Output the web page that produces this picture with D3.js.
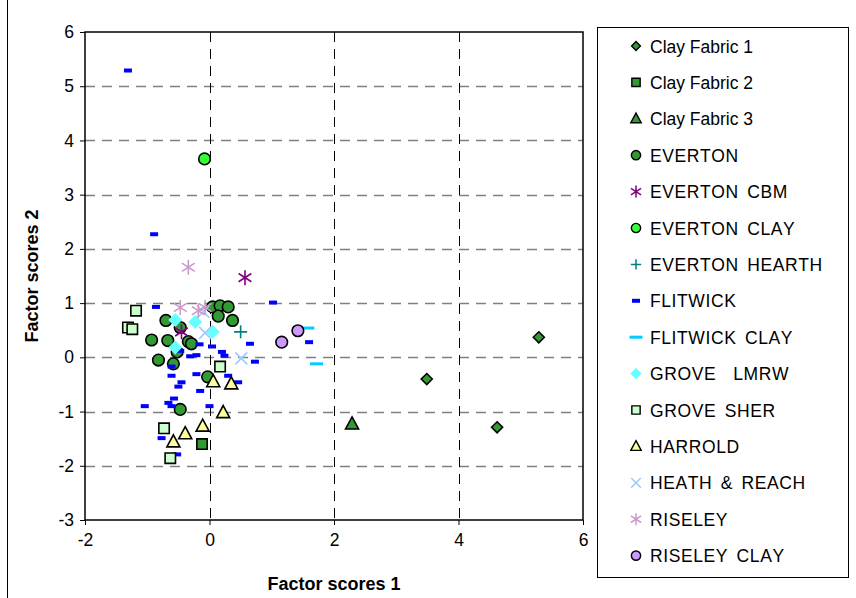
<!DOCTYPE html>
<html lang="en">
<head>
<meta charset="UTF-8" />
<title>Factor scores</title>
<script src="https://cdn.jsdelivr.net/npm/d3@7"></script>
<style>
  body { margin: 0; background: #fff; }
  text { font-family: "Liberation Sans", Arial, sans-serif; font-kerning: none; }
</style>
</head>
<body>
<script>
// data: [factor score 1, factor score 2]
var clayFabric1 = [[5.29,0.37],[3.49,-0.40],[4.62,-1.29]];
var clayFabric2 = [[-0.12,-1.60]];
var clayFabric3 = [[2.29,-1.23]];
var everton = [[0.05,0.93],[0.17,0.95],[0.30,0.93],[0.14,0.76],[0.37,0.68],[-0.70,0.68],
  [-0.47,0.55],[-0.93,0.32],[-0.67,0.31],[-0.34,0.29],[-0.29,0.25],[-0.52,0.10],
  [-0.82,-0.05],[-0.58,-0.12],[-0.03,-0.36],[-0.47,-0.96]];
var evertonCBM = [[0.57,1.47],[-0.45,0.47]];
var evertonClay = [[-0.08,3.66]];
var evertonHearth = [[0.50,0.47]];
var flitwick = [[-1.31,5.29],[-0.89,2.27],[-0.86,0.93],[1.02,1.01],[-0.16,0.24],[0.04,0.20],
  [-0.31,0.02],[-0.21,0.04],[-0.47,0.12],[0.20,0.10],[0.24,0.03],[0.65,0.25],[0.73,-0.08],
  [1.60,0.28],[-0.61,-0.17],[-0.61,-0.34],[-0.21,-0.31],[0.30,-0.34],[-0.45,-0.46],
  [-0.50,-0.54],[0.46,-0.46],[-0.15,-0.62],[-0.57,-0.76],[-0.66,-0.84],[-0.61,-0.90],
  [-1.04,-0.90],[0.00,-0.90],[-0.77,-1.49],[-0.52,-1.79]];
var flitwickClay = [[1.58,0.54],[1.72,-0.12]];
var groveLmrw = [[-0.55,0.69],[-0.23,0.65],[0.05,0.47],[-0.55,0.18]];
var groveSher = [[-1.18,0.86],[-1.31,0.55],[-1.24,0.52],[0.17,-0.17],[-0.73,-1.31],[-0.63,-1.86]];
var harrold = [[0.06,-0.45],[0.35,-0.49],[0.22,-1.02],[-0.11,-1.27],[-0.39,-1.41],[-0.58,-1.56]];
var heathReach = [[0.51,-0.02],[-0.07,0.45],[-0.10,0.84]];
var riseley = [[-0.34,1.66],[-0.47,0.92],[-0.18,0.86],[-0.07,0.92]];
var riseleyClay = [[1.42,0.49],[1.16,0.28]];

var xTicks = [-2,0,2,4,6];
var yTicks = [-3,-2,-1,0,1,2,3,4,5,6];

var series = [
  {name:"Clay Fabric 1", data:clayFabric1, shape:"diamond", fill:"#339933", stroke:"#000"},
  {name:"Clay Fabric 2", data:clayFabric2, shape:"square", fill:"#339933", stroke:"#000"},
  {name:"Clay Fabric 3", data:clayFabric3, shape:"triangle", fill:"#339933", stroke:"#000"},
  {name:"EVERTON", data:everton, shape:"circle", fill:"#339933", stroke:"#000"},
  {name:"EVERTON CBM", data:evertonCBM, shape:"star", fill:"none", stroke:"#800080"},
  {name:"EVERTON CLAY", data:evertonClay, shape:"circle", fill:"#33ff33", stroke:"#000"},
  {name:"EVERTON HEARTH", data:evertonHearth, shape:"plus", fill:"none", stroke:"#008080"},
  {name:"FLITWICK", data:flitwick, shape:"dash", fill:"#0000ff", stroke:"none"},
  {name:"FLITWICK CLAY", data:flitwickClay, shape:"longdash", fill:"#00ccff", stroke:"none"},
  {name:"GROVE  LMRW", data:groveLmrw, shape:"diamondbig", fill:"#66ffff", stroke:"none"},
  {name:"GROVE SHER", data:groveSher, shape:"square", fill:"#ccffcc", stroke:"#000"},
  {name:"HARROLD", data:harrold, shape:"triangle", fill:"#ffff99", stroke:"#000"},
  {name:"HEATH & REACH", data:heathReach, shape:"cross", fill:"none", stroke:"#99ccff"},
  {name:"RISELEY", data:riseley, shape:"star", fill:"none", stroke:"#cc99cc"},
  {name:"RISELEY CLAY", data:riseleyClay, shape:"circle", fill:"#cc99ff", stroke:"#000"}
];

function shapePath(shape, s) {
  // s = 1 for plot, smaller for legend
  var r;
  switch (shape) {
    case "diamond": r = 5.5*s; return "M0,"+(-r)+"L"+r+",0L0,"+r+"L"+(-r)+",0Z";
    case "diamondbig": r = 7*s; return "M0,"+(-r)+"L"+r+",0L0,"+r+"L"+(-r)+",0Z";
    case "square": r = 5.2*s; return "M"+(-r)+","+(-r)+"H"+r+"V"+r+"H"+(-r)+"Z";
    case "triangle": r = 6.2*s; return "M0,"+(-r*1.15)+"L"+(r*1.05)+","+(r*0.8)+"L"+(-r*1.05)+","+(r*0.8)+"Z";
    case "circle": r = 5.8*s; return d3.symbol().type(d3.symbolCircle).size(Math.PI*r*r)();
    case "star": r = 7.5*s; return "M0,"+(-r)+"V"+r+"M"+(-r*0.85)+","+(-r*0.55)+"L"+(r*0.85)+","+(r*0.55)+
                   "M"+(r*0.85)+","+(-r*0.55)+"L"+(-r*0.85)+","+(r*0.55);
    case "plus": r = 6.5*s; return "M"+(-r)+",0H"+r+"M0,"+(-r)+"V"+r;
    case "cross": r = 6*s; return "M"+(-r)+","+(-r)+"L"+r+","+r+"M"+r+","+(-r)+"L"+(-r)+","+r;
    case "dash": return "M-4,-2H4V2H-4Z";
    case "longdash": return "M-6.5,-1.5H6.5V1.5H-6.5Z";
  }
}

var w = 856, h = 598;
var svg = d3.select("body").append("svg").attr("width", w).attr("height", h);

// outer chart frame (only left edge shows)
svg.append("line").attr("x1", 7.5).attr("x2", 7.5).attr("y1", 0).attr("y2", h)
   .attr("stroke", "#000").attr("stroke-width", 1);

var xScale = d3.scaleLinear().domain([-2, 6]).range([85, 583]);
var yScale = d3.scaleLinear().domain([-3, 6]).range([520, 32]);

var plot = svg.append("g");
plot.append("rect").attr("x", 85).attr("y", 32).attr("width", 498).attr("height", 488)
    .attr("fill", "#fff");

// gridlines
plot.selectAll(".hgrid").data(yTicks.filter(function(d) { return d > -3 && d < 6; }))
  .enter().append("line").attr("class", "hgrid")
  .attr("x1", 85).attr("x2", 583)
  .attr("y1", function(d) { return Math.round(yScale(d)) + 0.5; })
  .attr("y2", function(d) { return Math.round(yScale(d)) + 0.5; })
  .attr("stroke", "#808080").attr("stroke-width", 1.5).attr("stroke-dasharray", "10,7");
plot.selectAll(".vgrid").data(xTicks.filter(function(d) { return d > -2 && d < 6; }))
  .enter().append("line").attr("class", "vgrid")
  .attr("y1", 32).attr("y2", 520)
  .attr("x1", function(d) { return Math.round(xScale(d)) + 0.5; })
  .attr("x2", function(d) { return Math.round(xScale(d)) + 0.5; })
  .attr("stroke", "#000").attr("stroke-width", 1).attr("stroke-dasharray", "10,7");

// axes
var fmt = function(d) { return String(d); };
var xAxis = d3.axisBottom(xScale).tickValues(xTicks).tickSize(5).tickPadding(9).tickFormat(fmt);
var yAxis = d3.axisLeft(yScale).tickValues(yTicks).tickSize(5).tickPadding(6).tickFormat(fmt);
var gx = svg.append("g").attr("transform", "translate(0,520)").call(xAxis);
var gy = svg.append("g").attr("transform", "translate(85,0)").call(yAxis);
[gx, gy].forEach(function(g) {
  g.select(".domain").remove();
  g.selectAll("text").attr("font-size", 17.5).attr("fill", "#000")
   .style("font-family", "'Liberation Sans', Arial, sans-serif");
  g.selectAll("line").attr("stroke", "#000");
});

plot.append("rect").attr("x", 85).attr("y", 32).attr("width", 498).attr("height", 488)
    .attr("fill", "none").attr("stroke", "#000").attr("stroke-width", 1.5);

// markers
series.forEach(function(s) {
  svg.append("g").selectAll("path").data(s.data).enter().append("path")
    .attr("transform", function(d) { return "translate(" + xScale(d[0]) + "," + yScale(d[1]) + ")"; })
    .attr("d", shapePath(s.shape, 1))
    .attr("fill", s.fill)
    .attr("stroke", s.stroke)
    .attr("stroke-width", 1.6);
});

// axis titles
svg.append("text").text("Factor scores 1")
   .attr("x", 334).attr("y", 590).attr("text-anchor", "middle")
   .attr("font-size", 18).attr("font-weight", "bold");
svg.append("text").text("Factor scores 2")
   .attr("text-anchor", "middle").attr("font-size", 18).attr("font-weight", "bold")
   .attr("transform", "translate(38,276)rotate(-90)");

// legend
var legend = svg.append("g");
legend.append("rect").attr("x", 597.5).attr("y", 27.5).attr("width", 251).attr("height", 550)
      .attr("fill", "#fff").attr("stroke", "#000").attr("stroke-width", 1);
var items = legend.selectAll(".item").data(series).enter().append("g")
  .attr("transform", function(d, i) { return "translate(636," + (46 + i * 36.4) + ")"; });
items.append("path")
  .attr("d", function(d) { return shapePath(d.shape, 0.8); })
  .attr("fill", function(d) { return d.fill; })
  .attr("stroke", function(d) { return d.stroke; })
  .attr("stroke-width", function(d) {
    return (d.shape === "star" || d.shape === "plus" || d.shape === "cross") ? 1.5 : 1.4;
  });
items.append("text").text(function(d) { return d.name; })
  .attr("x", 14).attr("y", 6.5).attr("font-size", 17.5).attr("fill", "#000")
  .attr("letter-spacing", function(d) { return d.name === d.name.toUpperCase() ? 0.6 : 0; })
  .attr("word-spacing", function(d) { return d.name === d.name.toUpperCase() ? 3 : 0; })
  .style("white-space", "pre").attr("xml:space", "preserve");
</script>
</body>
</html>
